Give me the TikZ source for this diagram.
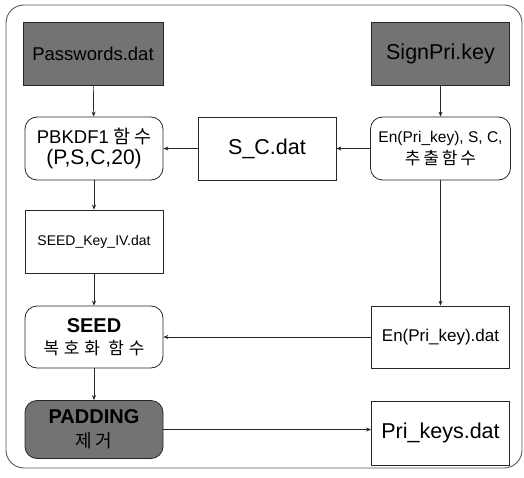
\documentclass[tikz,border=0pt]{standalone}
\usepackage{fontspec}
\setmainfont{Liberation Sans}
\newfontfamily\kr{Noto Sans CJK KR}
\usetikzlibrary{arrows.meta}
\newcommand{\fs}[1]{\fontsize{#1}{#1}\selectfont}
\begin{document}
\begin{tikzpicture}[x=1pt,y=-1pt,
  box/.style={draw=black!85, line width=0.8pt, fill=white, minimum width=138pt, minimum height=63pt, inner sep=1pt, align=center},
  rbox/.style={box, rounded corners=12pt},
  dark/.style={box, fill=black!55},
  arr/.style={draw=black!85, line width=0.7pt, -{Stealth[length=5pt,width=4pt]}},
  ln/.style={draw=black!85, line width=0.7pt}]
\useasboundingbox (0,0) rectangle (524,478);
\draw[black!65, line width=0.9pt, rounded corners=18pt] (6,5) rectangle (522,468);

\node[dark, minimum width=140pt] (pw) at (93,53.5) {\fs{18.5}Passwords.dat};
\node[dark] (sk) at (440.5,54) {\fs{21.5}SignPri.key};

\node[rbox] (pb) at (94,148.5) {\fs{18.5}PBKDF1 {\kr 함\,수}\\[3pt]\fs{21}(P,S,C,20)};
\node[box] (sc) at (267,148.5) {\fs{21.5}S\_C.dat};
\node[rbox, minimum width=140pt] (ex) at (440.5,148.5) {\fs{15.5}En(Pri\_key), S, C,\\[4pt]{\kr\fs{17}추\,출\,함\,수}};

\node[box] (kiv) at (94,241.5) {\fs{14}SEED\_Key\_IV.dat};
\node[rbox, minimum height=62pt] (seed) at (94,337) {\fs{20}\bfseries SEED\\[6pt]{\kr\fs{17}복\;호\;화\; 함\;수}};
\node[box, minimum height=62pt] (enp) at (440.5,337) {\fs{17}En(Pri\_key).dat};

\node[rbox, dark, minimum height=58pt] (pad) at (94,429.5) {\fs{20}\bfseries PADDING\\[8pt]{\kr\fs{18}제\,거}};
\node[box, minimum height=64pt] (pk) at (440.5,433) {\fs{21.5}Pri\_keys.dat};

\draw[arr] (pw) -- (pb);
\draw[arr] (sk) -- (ex);
\draw[arr] (ex) -- (sc);
\draw[arr] (sc) -- (pb);
\draw[arr] (pb) -- (kiv);
\draw[arr] (kiv) -- (seed);
\draw[arr] (seed) -- (pad);
\draw[arr] (ex) -- (enp);
\draw[arr] (enp) -- (seed);
\draw[arr] (pad.east) -- (pad.east -| pk.west);
\end{tikzpicture}
\end{document}
